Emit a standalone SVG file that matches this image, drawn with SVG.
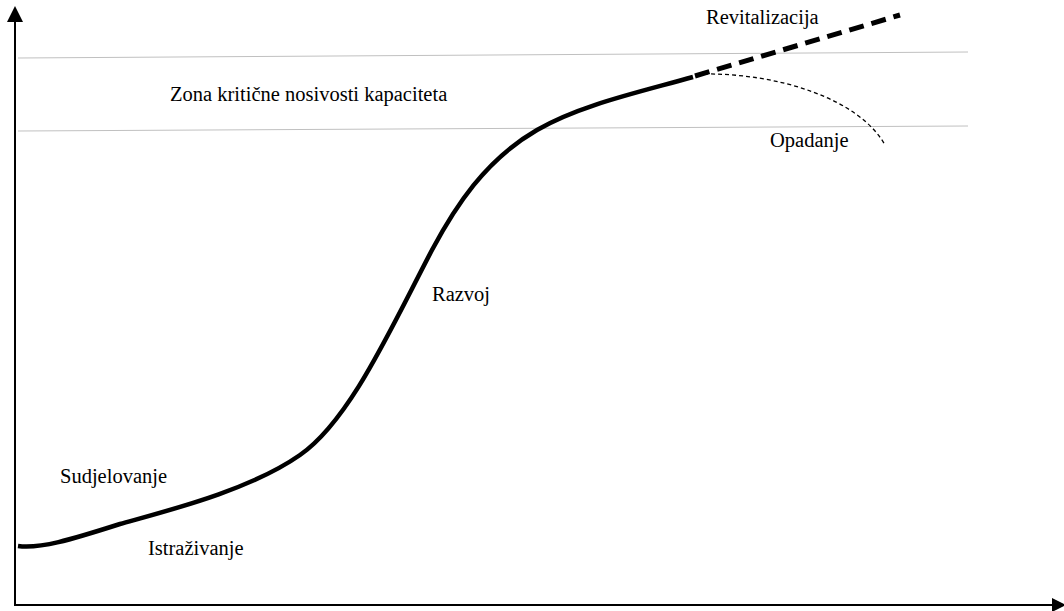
<svg xmlns="http://www.w3.org/2000/svg" width="1064" height="611" viewBox="0 0 1064 611">
<style>
.lbl{font-family:"Liberation Serif","Times New Roman",serif;font-size:20.5px;fill:#000}
.zone{stroke:#c0c0c0;stroke-width:1;fill:none}
.axis{stroke:#000;stroke-width:2;fill:none}
</style>
<rect width="1064" height="611" fill="#fff"/>
<g id="zones">
<line class="zone" x1="18" y1="58" x2="968" y2="52"/>
<line class="zone" x1="18" y1="131" x2="968" y2="126"/>
</g>
<g id="axes">
<line class="axis" x1="15" y1="606" x2="15" y2="20"/>
<polygon points="15,6 23,22 7,22" fill="#000"/>
<line class="axis" x1="15" y1="605" x2="1052" y2="605"/>
<polygon points="1066,605 1052,598 1052,612" fill="#000"/>
</g>
<g id="connectors">
<path id="main-curve" d="M18,546 C40,549 70,540 120,524 C170,510 250,490 300,455 C350,420 390,330 432,250 C455,207 485,160 537,130 C580,105 640,92 693,77" stroke="#000" stroke-width="4.5" fill="none"/>
<path id="revitalization" d="M695,76 L900,15" stroke="#000" stroke-width="5" stroke-dasharray="15,8" fill="none"/>
<path id="decline" d="M697,74 C780,72 860,100 885,145" stroke="#000" stroke-width="1.3" stroke-dasharray="4,3" fill="none"/>
</g>
<g id="labels">
<text class="lbl" x="706" y="24">Revitalizacija</text>
<text class="lbl" x="170" y="101">Zona kritične nosivosti kapaciteta</text>
<text class="lbl" x="770" y="147">Opadanje</text>
<text class="lbl" x="432" y="301">Razvoj</text>
<text class="lbl" x="60" y="483">Sudjelovanje</text>
<text class="lbl" x="148" y="555">Istraživanje</text>
</g>
</svg>
